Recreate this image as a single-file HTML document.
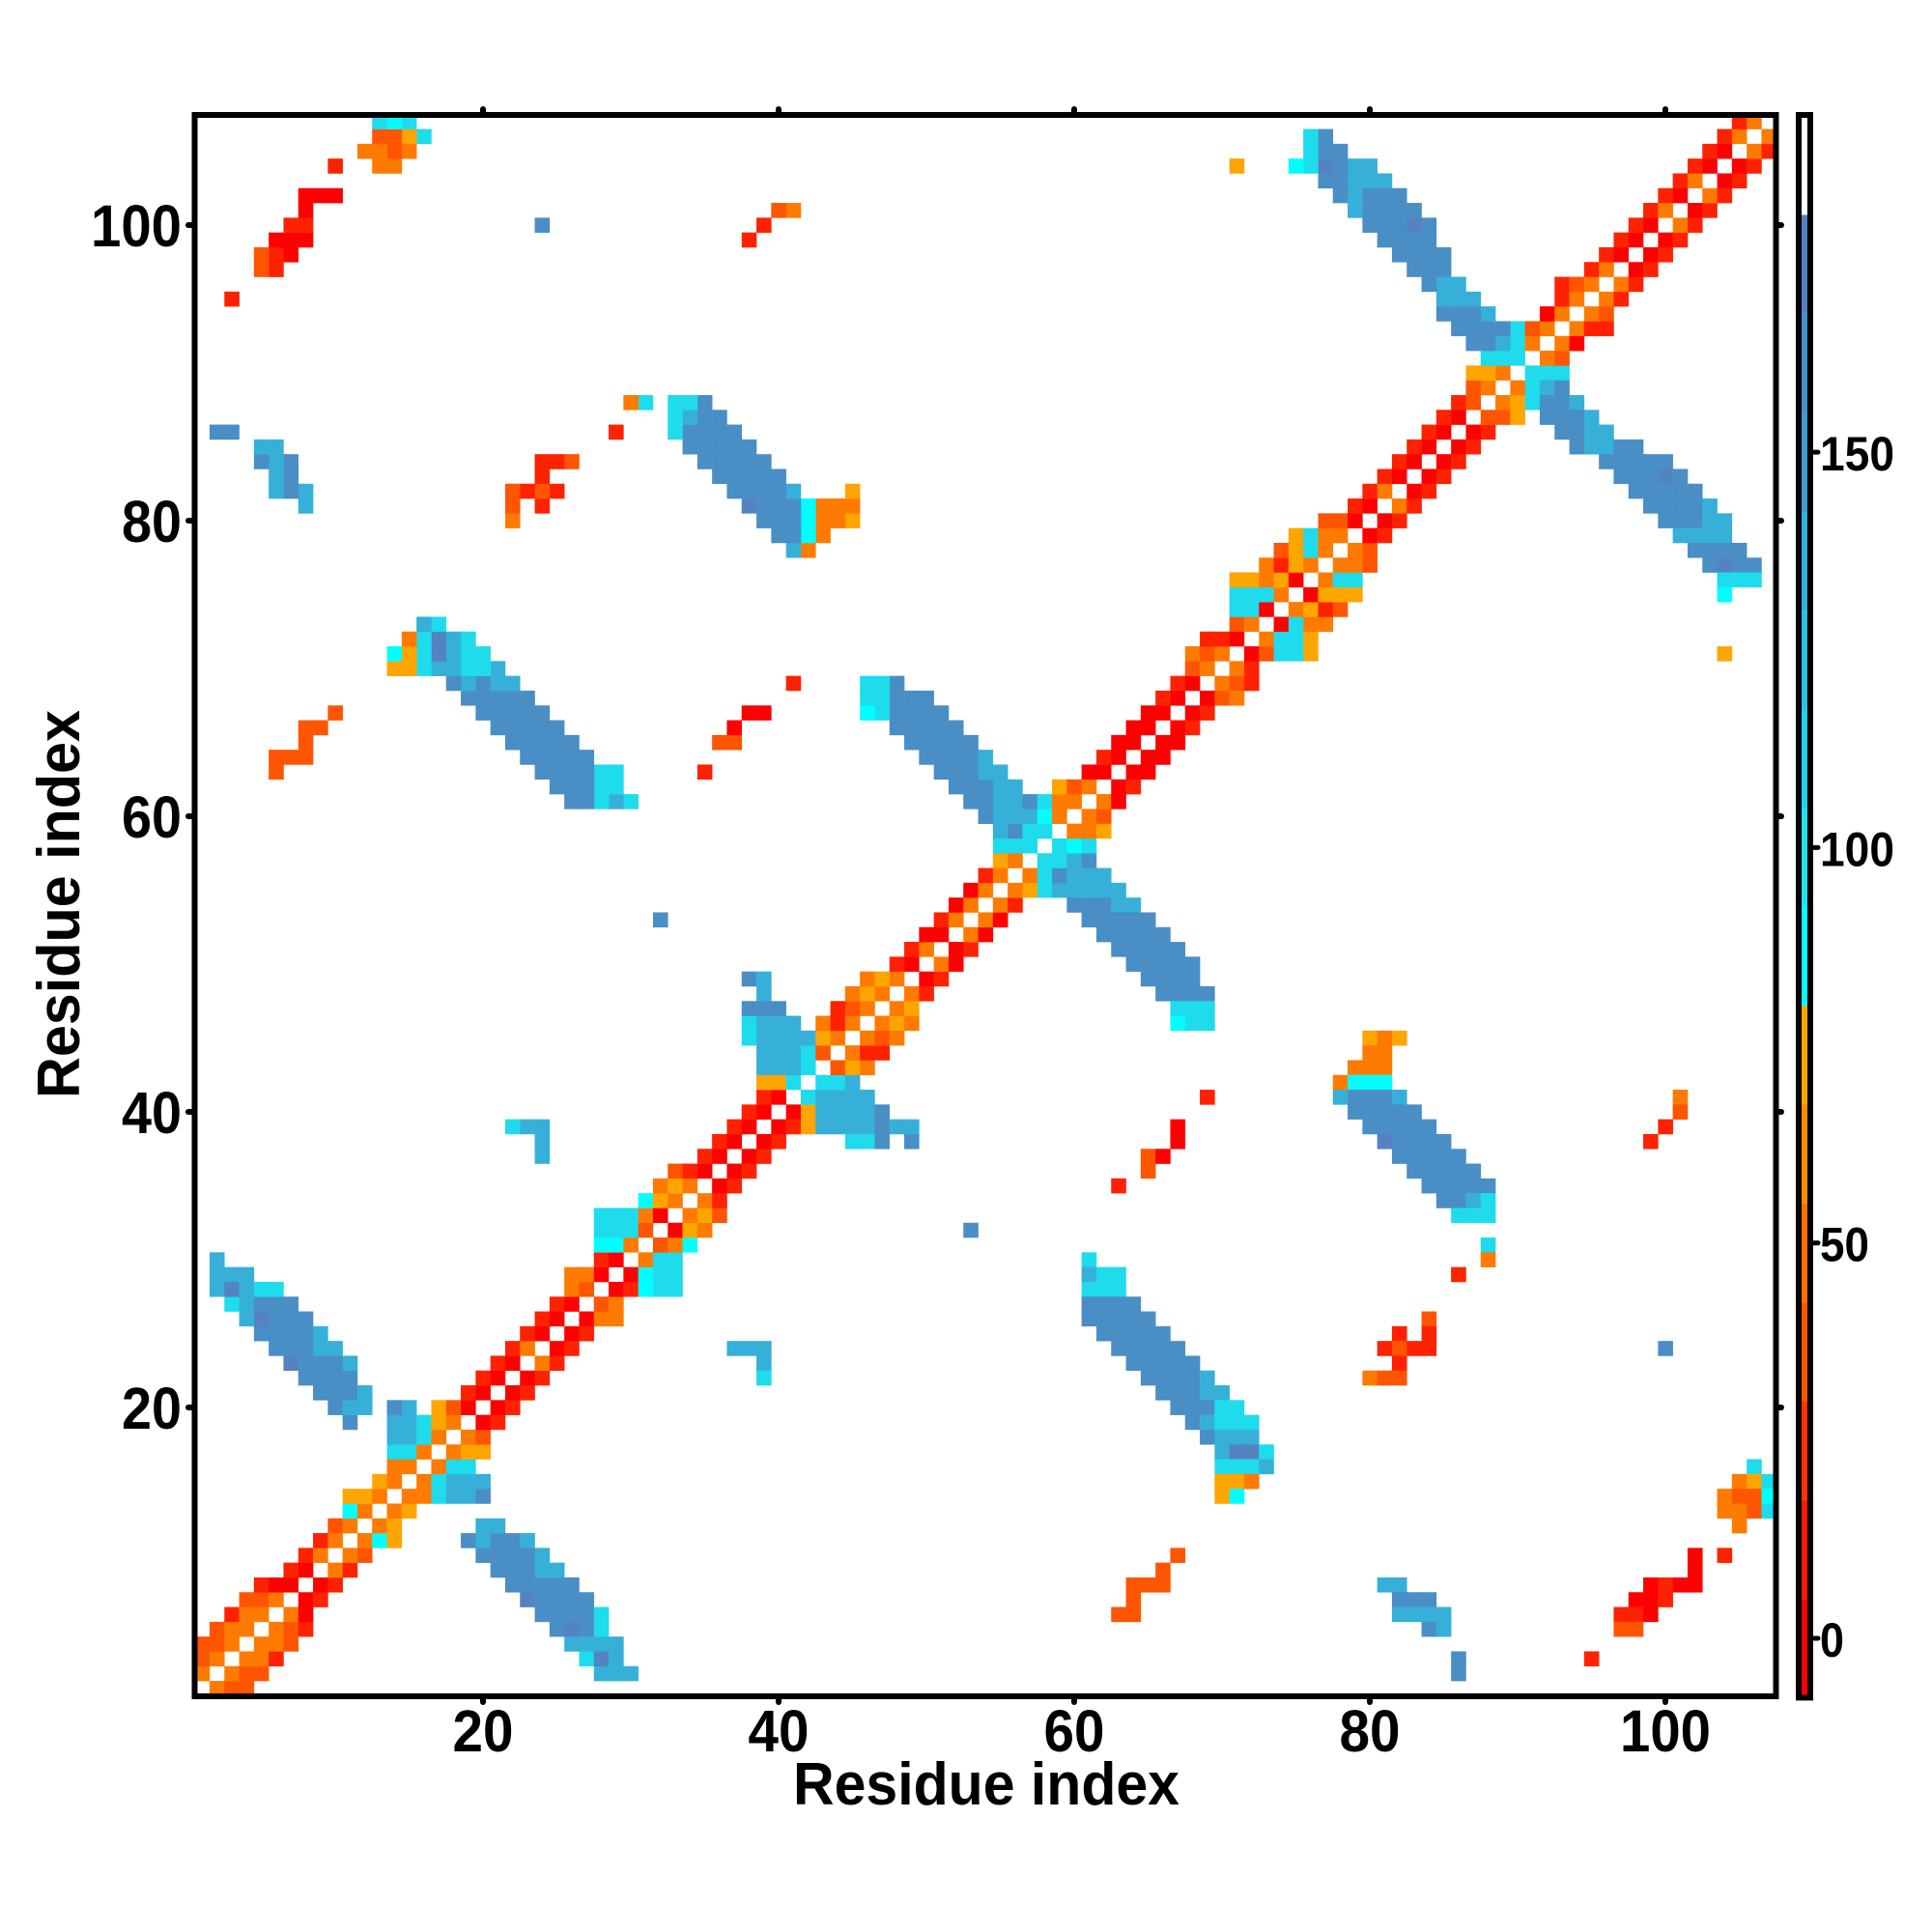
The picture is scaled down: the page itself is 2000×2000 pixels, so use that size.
<!DOCTYPE html>
<html>
<head>
<meta charset="utf-8">
<style>
html,body{margin:0;padding:0;background:#fff;}
svg{display:block;}
text{font-family:"Liberation Sans",Arial,sans-serif;font-weight:bold;fill:#000;}
</style>
</head>
<body>
<svg id="chart" width="2000" height="2000" viewBox="0 0 2000 2000" xmlns="http://www.w3.org/2000/svg">
<rect x="0" y="0" width="2000" height="2000" fill="#fff"/>
<g id="cells"></g>
<!-- colorbar -->
<g id="cbar">
<rect x="1862" y="1655.07" width="12" height="102.33" fill="#ff0000"/>
<rect x="1862" y="1552.74" width="12" height="102.43" fill="#ff1a00"/>
<rect x="1862" y="1450.41" width="12" height="102.43" fill="#ff3300"/>
<rect x="1862" y="1348.08" width="12" height="102.43" fill="#ff5500"/>
<rect x="1862" y="1245.75" width="12" height="102.43" fill="#ff7000"/>
<rect x="1862" y="1143.42" width="12" height="102.43" fill="#ff8c00"/>
<rect x="1862" y="1041.09" width="12" height="102.43" fill="#ffa500"/>
<rect x="1862" y="938.76" width="12" height="102.43" fill="#00ffff"/>
<rect x="1862" y="836.43" width="12" height="102.43" fill="#1ee2ee"/>
<rect x="1862" y="734.10" width="12" height="102.43" fill="#22d0e8"/>
<rect x="1862" y="631.77" width="12" height="102.43" fill="#2cc0e0"/>
<rect x="1862" y="529.44" width="12" height="102.43" fill="#33b0d8"/>
<rect x="1862" y="427.11" width="12" height="102.43" fill="#3a9ecf"/>
<rect x="1862" y="324.78" width="12" height="102.43" fill="#4490c8"/>
<rect x="1862" y="222.45" width="12" height="102.43" fill="#5080c0"/>
<rect x="1862" y="119" width="12" height="1638.4" fill="none" stroke="#000" stroke-width="6"/>
<g stroke="#000" stroke-width="5" stroke-linecap="round">
<line x1="1878" y1="1696" x2="1882" y2="1696"/>
<line x1="1878" y1="1286.7" x2="1882" y2="1286.7"/>
<line x1="1878" y1="877.4" x2="1882" y2="877.4"/>
<line x1="1878" y1="468.1" x2="1882" y2="468.1"/>
</g>
<text x="1884" y="1715" font-size="50" textLength="25" lengthAdjust="spacingAndGlyphs">0</text>
<text x="1884" y="1305.7" font-size="50" textLength="51" lengthAdjust="spacingAndGlyphs">50</text>
<text x="1884" y="896.4" font-size="50" textLength="77" lengthAdjust="spacingAndGlyphs">100</text>
<text x="1884" y="487.1" font-size="50" textLength="77" lengthAdjust="spacingAndGlyphs">150</text>
</g>
<!-- frame -->
<rect x="201.5" y="119" width="1637" height="1637" fill="none" stroke="#000" stroke-width="6"/>
<g stroke="#000" stroke-width="6" stroke-linecap="round">
<!-- bottom ticks -->
<line x1="500" y1="1759" x2="500" y2="1762"/>
<line x1="806" y1="1759" x2="806" y2="1762"/>
<line x1="1112" y1="1759" x2="1112" y2="1762"/>
<line x1="1418" y1="1759" x2="1418" y2="1762"/>
<line x1="1724" y1="1759" x2="1724" y2="1762"/>
<!-- top ticks -->
<line x1="500" y1="116" x2="500" y2="113"/>
<line x1="806" y1="116" x2="806" y2="113"/>
<line x1="1112" y1="116" x2="1112" y2="113"/>
<line x1="1418" y1="116" x2="1418" y2="113"/>
<line x1="1724" y1="116" x2="1724" y2="113"/>
<!-- left ticks -->
<line x1="198" y1="233" x2="195" y2="233"/>
<line x1="198" y1="539" x2="195" y2="539"/>
<line x1="198" y1="845" x2="195" y2="845"/>
<line x1="198" y1="1151" x2="195" y2="1151"/>
<line x1="198" y1="1457" x2="195" y2="1457"/>
<!-- right ticks -->
<line x1="1841" y1="233" x2="1844" y2="233"/>
<line x1="1841" y1="539" x2="1844" y2="539"/>
<line x1="1841" y1="845" x2="1844" y2="845"/>
<line x1="1841" y1="1151" x2="1844" y2="1151"/>
<line x1="1841" y1="1457" x2="1844" y2="1457"/>
</g>
<!-- x tick labels -->
<g font-size="61" text-anchor="middle">
<text x="500" y="1813" textLength="63" lengthAdjust="spacingAndGlyphs">20</text>
<text x="806" y="1813" textLength="63" lengthAdjust="spacingAndGlyphs">40</text>
<text x="1112" y="1813" textLength="63" lengthAdjust="spacingAndGlyphs">60</text>
<text x="1418" y="1813" textLength="63" lengthAdjust="spacingAndGlyphs">80</text>
<text x="1724" y="1813" textLength="94" lengthAdjust="spacingAndGlyphs">100</text>
</g>
<!-- y tick labels -->
<g font-size="61" text-anchor="end">
<text x="188" y="255" textLength="94" lengthAdjust="spacingAndGlyphs">100</text>
<text x="188" y="561" textLength="62" lengthAdjust="spacingAndGlyphs">80</text>
<text x="188" y="867" textLength="62" lengthAdjust="spacingAndGlyphs">60</text>
<text x="188" y="1173" textLength="62" lengthAdjust="spacingAndGlyphs">40</text>
<text x="188" y="1479" textLength="62" lengthAdjust="spacingAndGlyphs">20</text>
</g>
<!-- axis titles -->
<text x="1021" y="1868" font-size="62" text-anchor="middle" textLength="400" lengthAdjust="spacingAndGlyphs">Residue index</text>
<text transform="translate(82,936) rotate(-90)" x="0" y="0" font-size="62" text-anchor="middle" textLength="402" lengthAdjust="spacingAndGlyphs">Residue index</text>
</svg>
<script>
(function(){
var col={R:'#ff0000',r:'#ff2200',O:'#ff5500',o:'#ff7a00',Y:'#ffa500',C:'#00ffff',c:'#1edcec',L:'#36b0d8',B:'#4a8ec6',P:'#5582c0'};
var data=[
[1,2,"oOO"],[2,3,"oOO"],[3,4,"oor"],[4,5,"ooO"],[5,6,"oOr"],[6,7,"oR"],[7,8,"Rr"],[8,9,"Rr"],[9,10,"or"],[10,11,"oO"],
[11,12,"oCY"],[12,13,"oY"],[13,14,"oY"],[14,15,"oocLLB"],[15,16,"ocLLL"],[16,17,"occ"],[17,18,"oYY"],[18,19,"oO"],[19,20,"Rr"],[20,21,"Rr"],
[21,22,"Rr"],[22,23,"Rr"],[23,24,"or"],[24,25,"Rr"],[25,26,"Rr"],[26,27,"Roo"],[27,28,"Oo"],[28,29,"RrCcc"],[29,30,"RCcc"],[30,31,"occ"],
[31,32,"OoC"],[32,33,"RYo"],[33,34,"oYO"],[34,35,"or"],[35,36,"Rr"],[36,37,"Rr"],[37,38,"Rr"],[38,39,"Rr....ccB.B"],[39,40,"RrYLLLLBLL"],[40,41,"RYLLLLB"],
[41,42,"cLLLL"],[42,43,"ccL"],[43,44,"OYo"],[44,45,"orr"],[45,46,"oOo"],[46,47,"oYo"],[47,48,"oY"],[48,49,"or"],[49,50,"Rr"],[50,51,"oR"],
[51,52,"Rr"],[52,53,"oR"],[53,54,"oR"],[54,55,"or"],[55,56,"oYcLLLLL"],[56,57,"ocBLLL"],[57,58,"ccLB"],[58,59,"cCc"],[59,60,"ooY"],[60,61,"oO"],
[61,62,"oR"],[62,63,"Rr"],[63,64,"RR"],[64,65,"RR"],[65,66,"RR"],[66,67,"Rr"],[67,68,"Rr"],[68,69,"ROo"],[69,70,"oOr"],[70,71,"or"],
[71,72,"ROccY"],[72,73,"occY"],[73,74,"Rcoo"],[74,75,"oYrO"],[75,76,"RYYY"],[76,77,"occ"],[77,78,"ooO"],[78,79,"oO"],[79,80,"Rr"],[80,81,"Rr"],
[81,82,"or"],[82,83,"Rr"],[83,84,"Rr"],[84,85,"Rr"],[85,86,"Rr"],[86,87,"Rr"],[87,88,"OOY"],[88,89,"oYc"],[89,90,"oc"],[90,91,"ccc"],
[91,92,"oO"],[92,93,"oR"],[93,94,"orr"],[94,95,"oO"],[95,96,"or"],[96,97,"or"],[97,98,"Rr"],[98,99,"Rr"],[99,100,"Rr"],[100,101,"or"],
[101,102,"Rr"],[102,103,"or"],[103,104,"Rr"],[104,105,"Rr"],[105,106,"or"],[106,107,"o"],
/* band 1 */
[2,28,"LLL"],[3,27,"cPL"],[4,26,"LLLL"],[5,25,"BPBc"],[6,24,"BBBBc"],[7,23,"PBBBB"],[8,22,"BBBBB"],[9,21,"BBBLL"],[10,20,"BBBBL"],[11,19,"BLBBL"],[12,20,"LL"],
/* band 2 */
[30,61,"c"],[29,61,"Lcc"],[28,61,"ccc"],[27,61,"BBBB"],[26,61,"BBBBB"],[25,62,"BBBBB"],[24,63,"BBBBB"],[23,64,"BBBBB"],[22,65,"BBBBL"],[21,66,"BBBLL"],
[20,67,"BBBcc"],[19,68,"BLccc"],[18,69,"BLLL"],[17,70,"LPPc"],[16,70,"cccL"],[15,70,"YYo"],[14,70,"YC"],
/* band 3 */
[45,80,"YoY"],[44,80,"oo"],[43,79,"ooo"],[42,78,"oCCC"],[41,78,"LBBBL"],[40,79,"BBBBB"],[39,80,"BBBBB"],[38,81,"PBBBB"],[37,82,"BBBBB"],[36,83,"BBBBB"],
[35,84,"BBBBB"],[34,85,"BBLc"],[33,86,"ccc"],[31,88,"c"],[30,88,"o"],
/* band 4 */
[54,60,"BBBLL"],[53,61,"BBBBB"],[52,62,"BBBBB"],[51,63,"BBBBB"],[50,64,"BBBBB"],[49,65,"BBBB"],[48,66,"BBBB"],[47,67,"ccc"],[46,67,"Ccc"],
/* band 5 */
[89,92,"LB"],[88,92,"BBL"],[87,92,"BBBL"],[86,93,"BBLL"],[85,94,"BLLBB"],[84,96,"BBBBB"],[83,97,"BBBPB"],[82,98,"BBBBB"],[81,99,"BBBBL"],[80,100,"BBBLL"],
[79,101,"LLLL"],[78,102,"BBBB"],[77,103,"BPBB"],[76,104,"ccc"],[75,104,"C"],
/* scattered */
[32,53,"B"],[24,37,"LLL"],[23,39,"L"],[22,39,"c"],[35,63,"r"],[36,65,"O"],[37,65,"OR"],[38,67,"R"],[39,67,"R"],[41,69,"r"],
[6,63,"OO"],[7,64,"O"],[8,64,"OOO"],[9,66,"O"],[10,67,"O"],
[29,86,"r"],[26,84,"O"],[25,82,"r.r"],[24,81,"rOrr"],[23,82,"r"],[22,80,"oOO"],[24,100,"B"],
[16,106,"c"],[15,105,"oYc"],[14,104,"oOOC"],[13,104,"ooOc"],[12,105,"o"],
[10,102,"R.r"],[9,102,"R"],[8,99,"RrRR"],[7,98,"RRr"],[6,97,"rrR"],[5,97,"OO"],[3,95,"r"],
[8,81,"LL"],[7,82,"BBB"],[6,82,"LLLL"],[5,84,"BL"],[3,86,"B"],[2,86,"B"],
[41,101,"o"],[40,101,"O"],[39,100,"r"],[38,99,"r"],[71,104,"Y"]
];
var NS='http://www.w3.org/2000/svg';
var g=document.getElementById('cells');
function add(c,r,ch){
  var x=201.65+(c-1)*15.3, y=118.25+(107-r)*15.3;
  var e=document.createElementNS(NS,'rect');
  e.setAttribute('x',x.toFixed(2));
  e.setAttribute('y',y.toFixed(2));
  e.setAttribute('width','15.6');
  e.setAttribute('height','15.6');
  e.setAttribute('fill',col[ch]);
  g.appendChild(e);
}
for(var k=0;k<data.length;k++){
  var r=data[k][0], c0=data[k][1], s=data[k][2];
  for(var i=0;i<s.length;i++){
    var ch=s.charAt(i);
    if(ch==='.') continue;
    var c=c0+i;
    add(c,r,ch);
    add(r,c,ch);
  }
}
})();
</script>
</body>
</html>
